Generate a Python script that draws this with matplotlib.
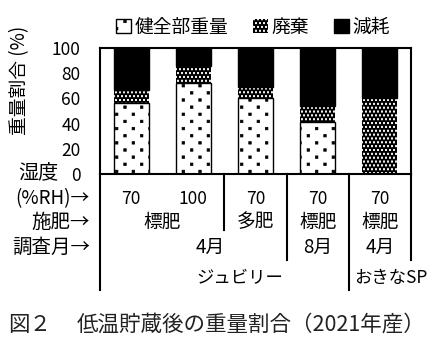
import matplotlib
matplotlib.use("Agg")
import matplotlib.pyplot as plt
import matplotlib.hatch as mhatch
from matplotlib.path import Path
from matplotlib.patches import Patch
import numpy as np

plt.rcParams['font.family'] = ['Noto Sans CJK JP', 'DejaVu Sans']
plt.rcParams['hatch.linewidth'] = 0.5


class SquareDots(mhatch.HatchPatternBase):
    """Staggered grid of small filled squares; '.' is sparse, '....' is dense."""

    def __init__(self, hatch, density):
        n = hatch.count('.')
        self.squares = []
        if n < 4:
            rows, cols, self.side = 14, 6, 0.025
        else:
            rows, cols, self.side = 26, 25, 0.013
        if n:
            step = 1.0 / cols
            for r in range(rows + 1):
                y = r / rows
                if r % 2 == 0:
                    xs = np.linspace(0, 1, cols + 1)
                else:
                    xs = np.linspace(step / 2, 1 - step / 2, cols)
                for x in xs:
                    self.squares.append((x, y))
        self.num_vertices = 5 * len(self.squares)

    def set_vertices_and_codes(self, vertices, codes):
        h = self.side / 2
        for i, (x, y) in enumerate(self.squares):
            vertices[5 * i:5 * i + 5] = [(x - h, y - h), (x + h, y - h),
                                         (x + h, y + h), (x - h, y + h),
                                         (x - h, y - h)]
            codes[5 * i:5 * i + 5] = [Path.MOVETO, Path.LINETO, Path.LINETO,
                                      Path.LINETO, Path.CLOSEPOLY]


mhatch._hatch_types = [SquareDots if t is mhatch.SmallFilledCircles else t
                       for t in mhatch._hatch_types]

# Weight share after cold storage (%), one entry per bar
humidity = ["70", "100", "70", "70", "70"]
healthy = [56, 72, 60, 41, 0]
waste = [11, 14, 9, 13, 60]
loss = [100 - h - w for h, w in zip(healthy, waste)]

series_names = ["健全部重量", "廃棄", "減耗"]
y_ticks = [0, 20, 40, 60, 80, 100]

fertilizer = [("標肥", 0.5), ("多肥", 2), ("標肥", 3), ("標肥", 4)]
month = [("4月", 1.27), ("8月", 3), ("4月", 4)]
variety = [("ジュビリー", 1.75), ("おきなSP", 4.18)]

fig = plt.figure(figsize=(4.35, 3.46), dpi=100)
ax = fig.add_axes([100 / 435, 1 - 174 / 346, 311 / 435, 126 / 346])

x = np.arange(len(healthy))
w = 0.56
styles = [dict(facecolor="white", edgecolor="black", hatch=".", linewidth=1.0),
          dict(facecolor="black", edgecolor="white", hatch="....", linewidth=0),
          dict(facecolor="black", edgecolor="black", hatch=None, linewidth=1.0)]
bottom = np.zeros(len(x))
for vals, st in zip([healthy, waste, loss], styles):
    ax.bar(x, vals, w, bottom=bottom, **st)
    bottom += np.array(vals)

ax.set_xlim(-0.5, len(x) - 0.5)
ax.set_ylim(0, 100)
ax.set_yticks(y_ticks)
ax.set_xticks([])
ax.tick_params(axis="y", length=0, pad=14, labelsize=12.5)
for s in ax.spines.values():
    s.set_linewidth(1.5)
    s.set_color("black")

ax.set_ylabel("重量割合 (%)", fontsize=13.5)
ax.yaxis.set_label_coords(-0.225, 0.74)

# Group separators below the plot area
tr = ax.get_xaxis_transform()
for xs, ybot in [(-0.5, -0.921), (1.5, -0.444), (2.5, -0.683), (3.5, -0.921), (4.5, -0.683)]:
    ax.plot([xs, xs], [0, ybot], color="black", lw=1.5, transform=tr, clip_on=False)

for xi, lab in zip(x, humidity):
    ax.text(xi, -0.198, lab, transform=tr, ha="center", va="center", fontsize=12.5)
for lab, xp in fertilizer:
    ax.text(xp, -0.381, lab, transform=tr, ha="center", va="center", fontsize=13.5)
for lab, xp in month:
    ax.text(xp, -0.579, lab, transform=tr, ha="center", va="center", fontsize=13.5)
for lab, xp in variety:
    ax.text(xp, -0.825, lab, transform=tr, ha="center", va="center", fontsize=12.5)

# Row headers on the left
fig.text(18 / 435, 1 - 173 / 346, "湿度", ha="left", va="center", fontsize=14.5)
fig.text(90 / 435, 1 - 199 / 346, "(%RH)→", ha="right", va="center", fontsize=13.5)
fig.text(90 / 435, 1 - 222 / 346, "施肥→", ha="right", va="center", fontsize=14)
fig.text(90 / 435, 1 - 247 / 346, "調査月→", ha="right", va="center", fontsize=14)

handles = [Patch(**st) for st in styles]
fig.legend(handles, series_names, loc="center", bbox_to_anchor=(253 / 435, 1 - 27 / 346),
           ncol=3, frameon=False, fontsize=13.5, handlelength=0.8, handleheight=0.8,
           handletextpad=0.2, columnspacing=1.3)

fig.text(8 / 435, 1 - 325 / 346, "図２", ha="left", va="center", fontsize=15.5, color="#222222")
fig.text(77 / 435, 1 - 325 / 346, "低温貯蔵後の重量割合（2021年産）",
         ha="left", va="center", fontsize=15.5, color="#222222")

fig.savefig("out.png", dpi=100)
